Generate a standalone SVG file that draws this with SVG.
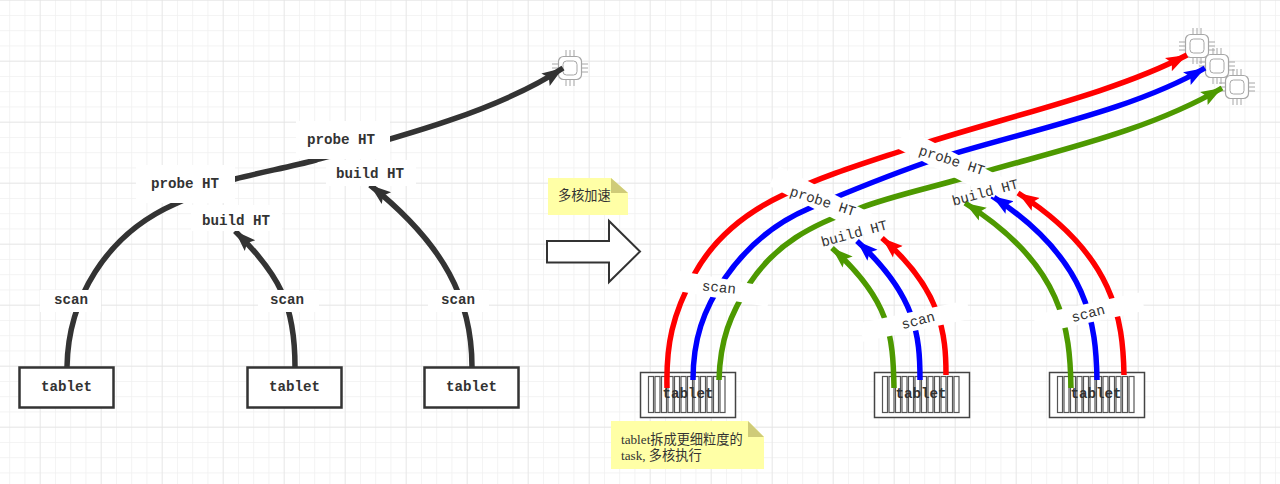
<svg xmlns="http://www.w3.org/2000/svg" width="1280" height="484" viewBox="0 0 1280 484">
<style>
.m{font-family:"Liberation Mono","DejaVu Sans Mono",monospace;font-size:14.200px;fill:#333;text-anchor:middle}
.b{font-weight:bold}
.n{font-family:"Liberation Serif","Noto Sans CJK SC",serif;font-size:13.200px;fill:#333}
.k{fill:none;stroke:#333;stroke-width:5.500}
.r{fill:none;stroke:#f00;stroke-width:5.500}
.u{fill:none;stroke:#00f;stroke-width:5.500}
.g{fill:none;stroke:#4d9900;stroke-width:5.500}
.box{fill:#fff;stroke:#333;stroke-width:2.500}
.box2{fill:#fff;stroke:#444;stroke-width:1.500}
.bar{fill:none;stroke:#555;stroke-width:1.200}
.note{fill:#ffffa6}
.fold{fill:#cfcb78}
.cpu{fill:none;stroke:#a6a6a6;stroke-width:1}
.lbl{fill:#fff}
</style>
<defs>
<pattern id="minor" x="9.200" y="-0.300" width="15.250" height="15.250" patternUnits="userSpaceOnUse"><path d="M0 0V15.250M0 0H15.250" fill="none" stroke="#efefef" stroke-width="1.400"/></pattern>
<pattern id="major" x="39.700" y="-0.300" width="61" height="61" patternUnits="userSpaceOnUse"><path d="M0 0V61M0 0H61" fill="none" stroke="#e4e4e4" stroke-width="1.400"/></pattern>
<marker id="ak" markerUnits="userSpaceOnUse" markerWidth="26" markerHeight="20" refX="21" refY="9" orient="auto"><path d="M0 1.500L21 9L0 16.500L4 9Z" fill="#333"/></marker>
<marker id="ar" markerUnits="userSpaceOnUse" markerWidth="26" markerHeight="20" refX="21" refY="9" orient="auto"><path d="M0 1.500L21 9L0 16.500L4 9Z" fill="#f00"/></marker>
<marker id="au" markerUnits="userSpaceOnUse" markerWidth="26" markerHeight="20" refX="21" refY="9" orient="auto"><path d="M0 1.500L21 9L0 16.500L4 9Z" fill="#00f"/></marker>
<marker id="ag" markerUnits="userSpaceOnUse" markerWidth="26" markerHeight="20" refX="21" refY="9" orient="auto"><path d="M0 1.500L21 9L0 16.500L4 9Z" fill="#4d9900"/></marker>
<g id="chip">
<rect x="-11.500" y="-11.500" width="23" height="23" rx="5" fill="#fff" stroke="#a6a6a6" stroke-width="1.200"/>
<rect x="-7" y="-7" width="14" height="14" rx="3.500" class="cpu"/>
<path class="cpu" d="M-4-12V-18M0-12V-18M4-12V-18M-4 12V18M0 12V18M4 12V18M-12-4H-18M-12 0H-18M-12 4H-18M12-4H18M12 0H18M12 4H18"/>
</g>
<g id="bars">
<rect class="bar" x="0" y="0" width="5" height="36"/><rect class="bar" x="6.500" y="0" width="5" height="36"/><rect class="bar" x="13" y="0" width="5" height="36"/><rect class="bar" x="19.500" y="0" width="5" height="36"/><rect class="bar" x="26" y="0" width="5" height="36"/><rect class="bar" x="32.500" y="0" width="5" height="36"/><rect class="bar" x="39" y="0" width="5" height="36"/><rect class="bar" x="45.500" y="0" width="5" height="36"/><rect class="bar" x="52" y="0" width="5" height="36"/><rect class="bar" x="58.500" y="0" width="5" height="36"/><rect class="bar" x="65" y="0" width="5" height="36"/><rect class="bar" x="71.500" y="0" width="5" height="36"/>
</g>
</defs>
<rect width="1280" height="484" fill="#fff"/>
<rect width="1280" height="484" fill="url(#minor)"/>
<rect width="1280" height="484" fill="url(#major)"/>

<g id="tablet-l1"><rect class="box" x="19.500" y="367.500" width="94" height="40"/><text class="m b" x="66.500" y="391">tablet</text></g>
<g id="tablet-l2"><rect class="box" x="247.500" y="367.500" width="94" height="40"/><text class="m b" x="294.500" y="391">tablet</text></g>
<g id="tablet-l3"><rect class="box" x="424.500" y="367.500" width="94" height="40"/><text class="m b" x="471.500" y="391">tablet</text></g>

<g id="tablet-r1"><rect class="box2" x="640.500" y="372.500" width="95" height="45"/><use href="#bars" x="648.500" y="376.500"/></g>
<g id="tablet-r2"><rect class="box2" x="874.500" y="372.500" width="95" height="45"/><use href="#bars" x="882.500" y="376.500"/></g>
<g id="tablet-r3"><rect class="box2" x="1049.500" y="372.500" width="95" height="45"/><use href="#bars" x="1057.500" y="376.500"/></g>

<g id="cpu-l"><use href="#chip" x="570" y="68"/></g>
<g id="cpu-r1"><use href="#chip" x="1197" y="46"/></g>
<g id="cpu-r2"><use href="#chip" x="1217" y="66"/></g>
<g id="cpu-r3"><use href="#chip" x="1237" y="87"/></g>

<g id="connectors">
<path class="k" marker-end="url(#ak)" d="M67 367C68 300 105 235 175 204C195 195 215 185 235 179C262 172 290 167 316 160C400 137 500 110 563 68"/>
<path class="k" marker-end="url(#ak)" d="M295 367C295 305 280 275 235 231"/>
<path class="k" marker-end="url(#ak)" d="M472 367C472 300 445 245 370 185"/>
<path class="r" marker-end="url(#ar)" d="M667 388C666 345 672 315 695 273C715 237 745 213 783 195C825 175 865 163 907 149C1000 118 1110 95 1187 55"/>
<path class="u" marker-end="url(#au)" d="M693 380C693 340 703 310 725 278C745 249 772 224 810 208C850 191 890 175 927 162C1020 132 1130 112 1205 68"/>
<path class="g" marker-end="url(#ag)" d="M719 380C720 340 730 315 750 283C775 245 810 225 860 208C895 195 930 188 967 177C1050 152 1145 133 1222 88"/>
<path class="r" marker-end="url(#ar)" d="M946 375C946 335 942 290 882 238"/>
<path class="u" marker-end="url(#au)" d="M920 380C920 335 916 295 857 241"/>
<path class="g" marker-end="url(#ag)" d="M894 388C893 335 890 300 832 248"/>
<path class="r" marker-end="url(#ar)" d="M1124 375C1123 320 1115 255 1018 193"/>
<path class="u" marker-end="url(#au)" d="M1097 380C1096 325 1090 260 992 196"/>
<path class="g" marker-end="url(#ag)" d="M1071 388C1070 330 1064 265 965 203"/>
</g>

<g id="labels">
<rect class="lbl" x="296" y="121" width="94" height="38"/><text class="m b" x="341" y="144">probe HT</text>
<rect class="lbl" x="136" y="165" width="99" height="38"/><text class="m b" x="185" y="188">probe HT</text>
<rect class="lbl" x="191" y="205" width="91" height="26"/><text class="m b" x="236" y="225">build HT</text>
<rect class="lbl" x="326" y="160" width="90" height="26"/><text class="m b" x="370" y="178">build HT</text>
<rect class="lbl" x="40" y="290" width="61" height="22"/><text class="m b" x="71" y="304">scan</text>
<rect class="lbl" x="258" y="290" width="61" height="22"/><text class="m b" x="287" y="304">scan</text>
<rect class="lbl" x="428" y="290" width="61" height="22"/><text class="m b" x="458" y="304">scan</text>
<rect class="lbl" x="-52" y="-10" width="104" height="20" transform="translate(718 288) rotate(10)"/><text class="m" transform="translate(719 287) rotate(6)" y="5">scan</text>
<rect class="lbl" x="-55" y="-11" width="110" height="22" transform="translate(823 201) rotate(27)"/><text class="m" transform="translate(823 201) rotate(18)" y="5">probe HT</text>
<rect class="lbl" x="-55" y="-11" width="110" height="22" transform="translate(950 163) rotate(27)"/><text class="m" transform="translate(952 160) rotate(18)" y="5">probe HT</text>
<text class="m" transform="translate(854 233) rotate(-15)" y="5">build HT</text>
<text class="m" transform="translate(985 192) rotate(-15)" y="5">build HT</text>
<rect class="lbl" x="-55" y="-9.500" width="110" height="19" transform="translate(915 321) rotate(-12)"/><text class="m" transform="translate(918 320) rotate(-15)" y="5">scan</text>
<rect class="lbl" x="-55" y="-9.500" width="110" height="19" transform="translate(1089 313) rotate(-12)"/><text class="m" transform="translate(1088 313) rotate(-15)" y="5">scan</text>
</g>

<g id="tablet-r-labels">
<text class="m b" x="688" y="398">tablet</text>
<text class="m b" x="921" y="398">tablet</text>
<text class="m b" x="1096" y="398">tablet</text>
</g>

<g id="arrow-block"><path d="M547 241H609V221L640 251.500L609 282V262.500H547Z" fill="#fff" stroke="#333" stroke-width="2"/></g>
<g id="note-speed">
<path class="note" d="M548 178H611L628 193V215H548Z"/><path class="fold" d="M611 178L628 193H611Z"/>
<text class="n" x="558" y="200">多核加速</text>
</g>
<g id="note-tablet">
<path class="note" d="M611 421H748L764 437V469H611Z"/><path class="fold" d="M748 421L764 437H748Z"/>
<text class="n" x="621" y="444">tablet拆成更细粒度的</text>
<text class="n" x="621" y="460">task, 多核执行</text>
</g>
</svg>
